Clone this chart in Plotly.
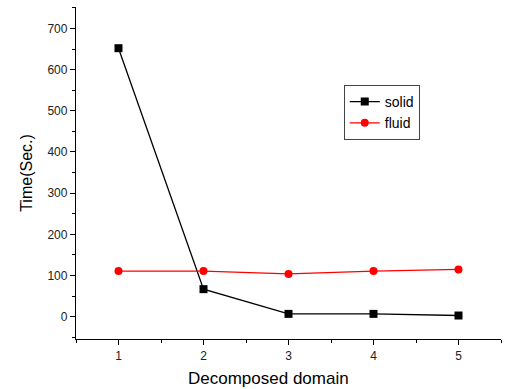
import plotly.graph_objects as go

domains = [1, 2, 3, 4, 5]
solid_time = [652, 67, 7, 7, 3]
fluid_time = [111, 111, 104, 111, 115]

FONT = "Liberation Sans, Arial, sans-serif"

fig = go.Figure()
fig.add_trace(go.Scatter(
    x=domains, y=solid_time, name="solid", mode="lines+markers",
    line=dict(color="black", width=1.3),
    marker=dict(symbol="square", size=8, color="black"),
))
fig.add_trace(go.Scatter(
    x=domains, y=fluid_time, name="fluid", mode="lines+markers",
    line=dict(color="red", width=1.3),
    marker=dict(symbol="circle", size=8, color="red"),
))

tick_font = dict(family=FONT, size=12, color="#222")
fig.update_layout(
    width=505, height=389,
    margin=dict(l=76, r=4, t=7, b=50),
    paper_bgcolor="white", plot_bgcolor="white",
    showlegend=True,
    legend=dict(
        x=0.63, y=0.765, xanchor="left", yanchor="top",
        bordercolor="#444", borderwidth=1, bgcolor="white",
        font=dict(family=FONT, size=14, color="black"),
        tracegroupgap=0, itemwidth=30,
    ),
    xaxis=dict(
        range=[0.5, 5.5], tickmode="linear", tick0=1, dtick=1,
        showgrid=False, zeroline=False, showline=True, linecolor="black", linewidth=1.3,
        ticks="outside", ticklen=5, tickcolor="black",
        minor=dict(ticks="outside", ticklen=3, tickcolor="black", dtick=0.5, tick0=0.5),
        tickfont=tick_font,
    ),
    yaxis=dict(
        range=[-54, 752], tickmode="linear", tick0=0, dtick=100,
        showgrid=False, zeroline=False, showline=True, linecolor="black", linewidth=1.3,
        ticks="outside", ticklen=5, tickcolor="black",
        minor=dict(ticks="outside", ticklen=3, tickcolor="black", dtick=50, tick0=0),
        tickfont=tick_font,
        title=dict(text="Time(Sec.)", font=dict(family=FONT, size=16, color="black"), standoff=10),
    ),
    annotations=[dict(
        text="Decomposed domain", xref="paper", yref="paper",
        x=0.453, y=-0.118, xanchor="center", yanchor="middle", showarrow=False,
        font=dict(family=FONT, size=17, color="black"),
    )],
)

fig.write_html("out.html")
